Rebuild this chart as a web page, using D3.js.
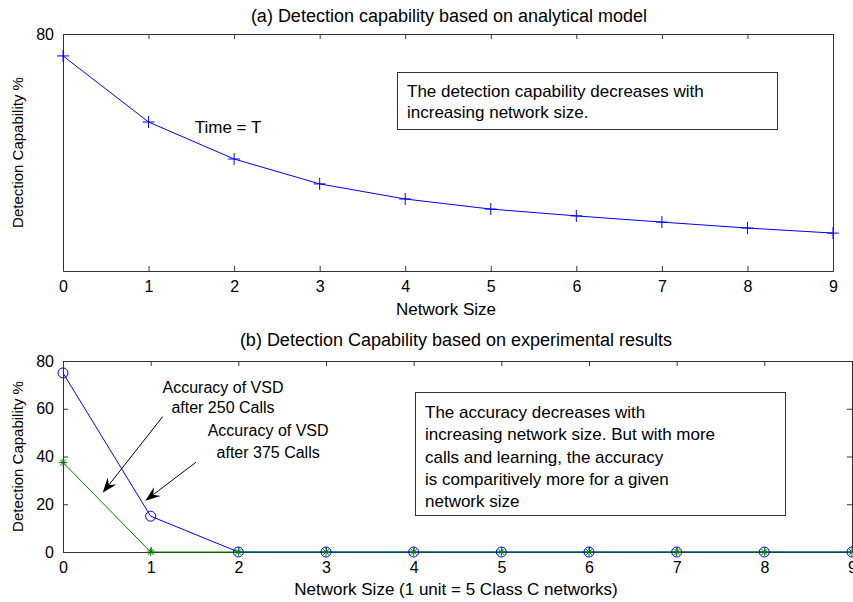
<!DOCTYPE html>
<html>
<head>
<meta charset="utf-8">
<script src="https://cdn.jsdelivr.net/npm/d3@7"></script>
<style>
  body { margin: 0; background: #fff; }
  svg text { font-family: "Liberation Sans", Arial, sans-serif; font-size: 17px; fill: #000; }
  svg .tick text { font-size: 16px; }
  svg .title { font-size: 18px; }
  svg .ylab { font-size: 15px; }
  svg .note { font-size: 16px; }
</style>
</head>
<body>
<div id="chart"></div>
<script>
// data
const networkSize = [0, 1, 2, 3, 4, 5, 6, 7, 8, 9];
const analytical = [72.6, 50.3, 37.8, 29.4, 24.3, 20.9, 18.6, 16.5, 14.5, 12.8];
const calls375 = [75, 15, 0, 0, 0, 0, 0, 0, 0, 0];
const calls250 = [37.5, 0, 0, 0, 0, 0, 0, 0, 0, 0];
const topYTicks = [80];
const bottomYTicks = [0, 20, 40, 60, 80];

const width = 853;
const height = 602;
const axisColor = "#333";
const tickLen = 5;

const svg = d3
  .select("#chart")
  .append("svg")
  .attr("width", width)
  .attr("height", height);

svg.append("rect").attr("width", width).attr("height", height).attr("fill", "#fff");

// draw a MATLAB-like boxed axes
function drawBox(x, y, yTicks, rightTicks) {
  const [x0, x1] = x.range();
  const [y0, y1] = y.range();
  const g = svg.append("g");

  // bottom axis
  const xb = d3.axisBottom(x).tickValues(networkSize).tickSize(-tickLen).tickPadding(tickLen + 5).tickSizeOuter(0);
  g.append("g").attr("transform", `translate(0,${y0})`).call(xb)
    .call((a) => a.select(".domain").attr("stroke", axisColor))
    .call((a) => a.selectAll(".tick line").attr("stroke", axisColor))
    .call((a) => a.selectAll(".tick text").attr("font-size", null).attr("font-family", null));

  // top ticks
  const xt = d3.axisTop(x).tickValues(networkSize).tickSize(-tickLen).tickFormat("").tickSizeOuter(0);
  g.append("g").attr("transform", `translate(0,${y1})`).call(xt)
    .call((a) => a.select(".domain").attr("stroke", axisColor))
    .call((a) => a.selectAll(".tick line").attr("stroke", axisColor));

  // left axis
  const yl = d3.axisLeft(y).tickValues(yTicks).tickSize(-tickLen).tickPadding(tickLen + 4).tickSizeOuter(0);
  g.append("g").attr("transform", `translate(${x0},0)`).call(yl)
    .call((a) => a.select(".domain").attr("stroke", axisColor))
    .call((a) => a.selectAll(".tick line").attr("stroke", axisColor))
    .call((a) => a.selectAll(".tick text").attr("font-size", null).attr("font-family", null));

  // right side
  const yr = d3.axisRight(y).tickValues(rightTicks ? yTicks : []).tickSize(-tickLen).tickFormat("").tickSizeOuter(0);
  g.append("g").attr("transform", `translate(${x1},0)`).call(yr)
    .call((a) => a.select(".domain").attr("stroke", axisColor))
    .call((a) => a.selectAll(".tick line").attr("stroke", axisColor));
}

function plusPath(cx, cy, s) {
  return `M${cx - s},${cy}H${cx + s}M${cx},${cy - s}V${cy + s}`;
}
function starPath(cx, cy, s) {
  const d = s * 0.72;
  return plusPath(cx, cy, s) + `M${cx - d},${cy - d}L${cx + d},${cy + d}M${cx - d},${cy + d}L${cx + d},${cy - d}`;
}

function arrow(x, y, from, to) {
  const sx = x(from[0]), sy = y(from[1]);
  const tx = x(to[0]), ty = y(to[1]);
  const ang = Math.atan2(ty - sy, tx - sx);
  const len = 15, half = 5.5, notch = 10;
  const bx = tx - len * Math.cos(ang), by = ty - len * Math.sin(ang);
  const nx = tx - notch * Math.cos(ang), ny = ty - notch * Math.sin(ang);
  const px = -Math.sin(ang), py = Math.cos(ang);
  svg.append("line")
    .attr("x1", sx).attr("y1", sy).attr("x2", nx).attr("y2", ny)
    .attr("stroke", "#000").attr("stroke-width", 1);
  svg.append("path")
    .attr("d", `M${tx},${ty}L${bx + px * half},${by + py * half}L${nx},${ny}L${bx - px * half},${by - py * half}Z`)
    .attr("fill", "#000");
}

// ---------- (a) analytical model ----------
const xA = d3.scaleLinear().domain([0, 9]).range([63, 833]);
const yA = d3.scaleLinear().domain([0, 80]).range([271, 34]);

drawBox(xA, yA, topYTicks, false);

const line = (x, y) => d3.line().x((d, i) => x(networkSize[i])).y((d) => y(d));

svg.append("path")
  .datum(analytical)
  .attr("fill", "none")
  .attr("stroke", "#0000ff")
  .attr("stroke-width", 1)
  .attr("d", line(xA, yA));

svg.append("path")
  .attr("d", analytical.map((d, i) => plusPath(xA(networkSize[i]), yA(d), 6)).join(""))
  .attr("stroke", "#0000ff")
  .attr("fill", "none");

svg.append("text").attr("class", "title").attr("x", 449).attr("y", 16).attr("dy", "0.35em").attr("text-anchor", "middle")
  .text("(a) Detection capability based on analytical model");
svg.append("text").attr("x", 446).attr("y", 309).attr("dy", "0.35em").attr("text-anchor", "middle").text("Network Size");
svg.append("text").attr("class", "ylab")
  .attr("transform", `translate(23,${(yA.range()[0] + yA.range()[1]) / 2}) rotate(-90)`)
  .attr("text-anchor", "middle")
  .text("Detection Capability %");

svg.append("text").attr("x", xA(1.54)).attr("y", yA(48.6)).attr("dy", "0.35em").text("Time = T");

// note box (a)
svg.append("rect").attr("x", 397.5).attr("y", 72.5).attr("width", 380).attr("height", 57)
  .attr("fill", "#fff").attr("stroke", axisColor);
svg.append("text").attr("x", 407).attr("y", 91).attr("dy", "0.35em").text("The detection capability decreases with");
svg.append("text").attr("x", 407).attr("y", 112).attr("dy", "0.35em").text("increasing network size.");

// ---------- (b) experimental results ----------
const xB = d3.scaleLinear().domain([0, 9]).range([63, 852]);
const yB = d3.scaleLinear().domain([0, 80]).range([552, 361]);

drawBox(xB, yB, bottomYTicks, true);

svg.append("path")
  .datum(calls375)
  .attr("fill", "none")
  .attr("stroke", "#0000ff")
  .attr("d", line(xB, yB));

svg.append("path")
  .datum(calls250)
  .attr("fill", "none")
  .attr("stroke", "#008000")
  .attr("d", line(xB, yB));

svg.selectAll(".circ")
  .data(calls375)
  .enter()
  .append("circle")
  .attr("cx", (d, i) => xB(networkSize[i]))
  .attr("cy", (d) => yB(d))
  .attr("r", 5)
  .attr("fill", "none")
  .attr("stroke", "#0000ff");

svg.append("path")
  .attr("d", calls250.map((d, i) => starPath(xB(networkSize[i]), yB(d), 4)).join(""))
  .attr("stroke", "#008000")
  .attr("fill", "none");

svg.append("text").attr("class", "title").attr("x", 456).attr("y", 340).attr("dy", "0.35em").attr("text-anchor", "middle")
  .text("(b) Detection Capability based on experimental results");
svg.append("text").attr("x", 456).attr("y", 589).attr("dy", "0.35em").attr("text-anchor", "middle")
  .text("Network Size (1 unit = 5 Class C networks)");
svg.append("text").attr("class", "ylab")
  .attr("transform", `translate(23,${(yB.range()[0] + yB.range()[1]) / 2}) rotate(-90)`)
  .attr("text-anchor", "middle")
  .text("Detection Capability %");

// annotations
const notes = [
  { x: 1.825, y: 69.1, t: "Accuracy of VSD" },
  { x: 1.825, y: 60.7, t: "after 250 Calls" },
  { x: 2.34, y: 51.1, t: "Accuracy of VSD" },
  { x: 2.34, y: 41.9, t: "after 375 Calls" },
];
svg.selectAll(".noteText")
  .data(notes)
  .enter()
  .append("text")
  .attr("class", "note")
  .attr("x", (d) => xB(d.x))
  .attr("y", (d) => yB(d.y))
  .attr("dy", "0.35em")
  .attr("text-anchor", "middle")
  .text((d) => d.t);

arrow(xB, yB, [1.137, 56.7], [0.453, 24.8]);
arrow(xB, yB, [1.517, 37.6], [0.939, 21.5]);

// note box (b)
svg.append("rect").attr("x", 415.5).attr("y", 392.5).attr("width", 370).attr("height", 123)
  .attr("fill", "#fff").attr("stroke", axisColor);
const boxLines = [
  "The accuracy decreases with",
  "increasing network size. But with more",
  "calls and learning, the accuracy",
  "is comparitively more for a given",
  "network size",
];
svg.selectAll(".bl")
  .data(boxLines)
  .enter()
  .append("text")
  .attr("x", 425)
  .attr("y", (d, i) => 412 + i * 22.3)
  .attr("dy", "0.35em")
  .text((d) => d);
</script>
</body>
</html>
